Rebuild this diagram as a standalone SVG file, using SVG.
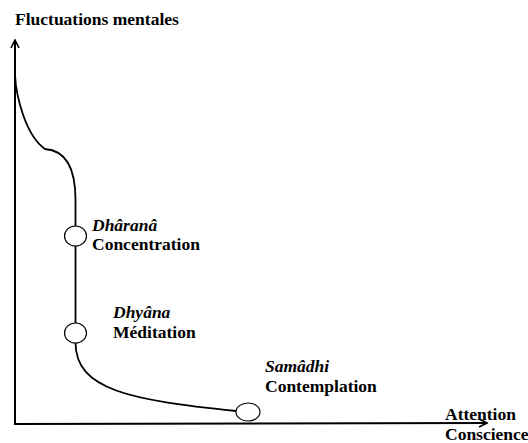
<svg xmlns="http://www.w3.org/2000/svg" width="528" height="443" viewBox="0 0 528 443">
<style>
.t{font-family:"Liberation Serif","Times New Roman",serif;font-weight:bold;font-size:17.5px;fill:#000}
.i{font-style:italic}
.ax{fill:none;stroke:#000;stroke-width:2}
.cv{fill:none;stroke:#000;stroke-width:1.8}
.nd{fill:#fff;stroke:#000;stroke-width:1.2}
</style>
<defs>
<marker id="arr" viewBox="0 0 10 10" refX="9" refY="5" markerWidth="10" markerHeight="10" markerUnits="userSpaceOnUse" orient="auto">
<path d="M1,1 L9,5 L1,9" fill="none" stroke="#000" stroke-width="1.6"/>
</marker>
</defs>
<rect width="528" height="443" fill="#fff"/>
<g id="connectors">
<path class="ax" d="M15,423 L15,40" marker-end="url(#arr)"/>
<path class="ax" d="M14,424 L487,423" marker-end="url(#arr)"/>
<path class="cv" d="M15,75 C16,95 25,135 45,149 C60,150 75.5,160 75.5,200 L75.5,226"/>
<path class="cv" d="M75.5,246 L75.5,323"/>
<path class="cv" d="M75.5,343 C76,390 130,400 236,411"/>
</g>
<g id="axis-y-label"><text class="t" x="15" y="25">Fluctuations mentales</text></g>
<g id="axis-x-label">
<text class="t" x="445" y="420">Attention</text>
<text class="t" x="445" y="440">Conscience</text>
</g>
<g id="dharana">
<ellipse class="nd" cx="75.5" cy="236" rx="11" ry="10"/>
<text class="t i" x="92" y="231">Dhâranâ</text>
<text class="t" x="92" y="250">Concentration</text>
</g>
<g id="dhyana">
<ellipse class="nd" cx="75.5" cy="333" rx="11" ry="10"/>
<text class="t i" x="113" y="318">Dhyâna</text>
<text class="t" x="113" y="338">Méditation</text>
</g>
<g id="samadhi">
<ellipse class="nd" cx="248" cy="412" rx="12" ry="9"/>
<text class="t i" x="265" y="372">Samâdhi</text>
<text class="t" x="265" y="392">Contemplation</text>
</g>
</svg>
